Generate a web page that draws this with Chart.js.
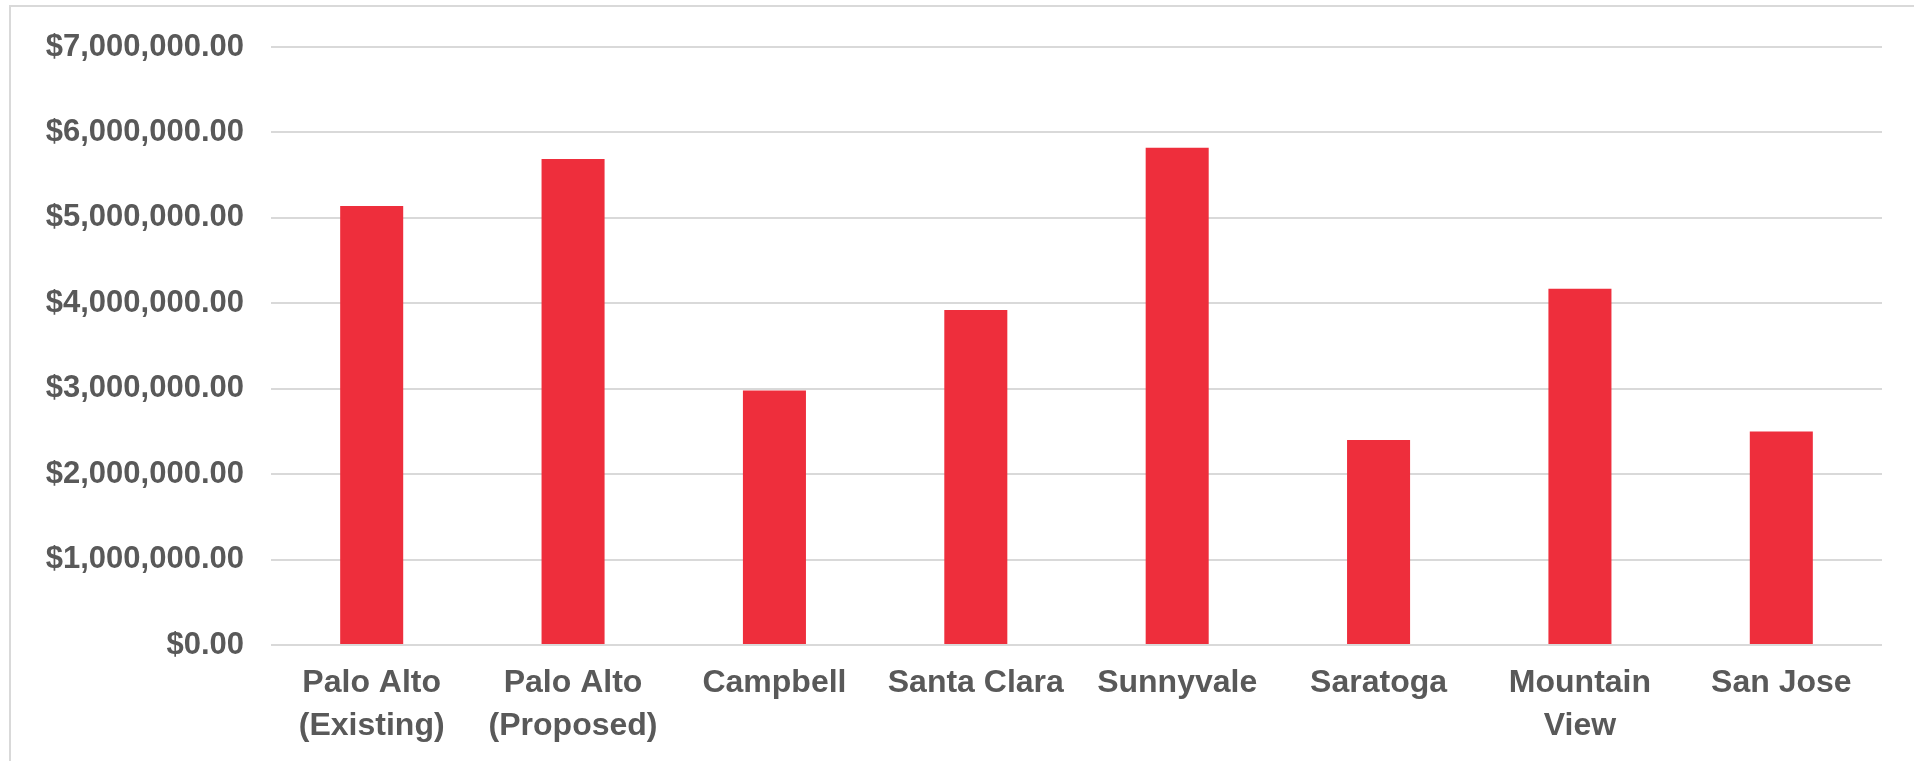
<!DOCTYPE html>
<html>
<head>
<meta charset="utf-8">
<script src="https://cdn.jsdelivr.net/npm/chart.js@4.4.0/dist/chart.umd.min.js"></script>
<style>
  html, body { margin: 0; padding: 0; background: #fff; overflow: hidden; }
  #frame {
    position: absolute; left: 9px; top: 5px; width: 1920px; height: 780px;
    border: 2px solid #d9d9d9; box-sizing: border-box;
  }
  #wrap { position: absolute; left: 0; top: 0; width: 1914px; height: 761px; }
</style>
</head>
<body>
<div id="frame"></div>
<div id="wrap"><canvas id="costChart"></canvas></div>
<script>
// Chart data
const cities = [
  ['Palo Alto', '(Existing)'],
  ['Palo Alto', '(Proposed)'],
  'Campbell',
  'Santa Clara',
  'Sunnyvale',
  'Saratoga',
  ['Mountain', 'View'],
  'San Jose'
];
const costs = [5140000, 5690000, 2980000, 3920000, 5820000, 2400000, 4170000, 2500000];
const yMax = 7000000;
const yStep = 1000000;

const textColor = '#595959';
const barColor = '#ee2e3c';
const gridColor = '#d9d9d9';

function formatMoney(v) {
  return '$' + v.toLocaleString('en-US', { minimumFractionDigits: 2, maximumFractionDigits: 2 });
}

const ctx = document.getElementById('costChart').getContext('2d');
const costChart = new Chart(ctx, {
  type: 'bar',
  data: {
    labels: cities,
    datasets: [{
      label: 'Cost',
      data: costs,
      backgroundColor: barColor,
      borderWidth: 0,
      barPercentage: 0.313,
      categoryPercentage: 1.0
    }]
  },
  options: {
    responsive: true,
    maintainAspectRatio: false,
    animation: false,
    layout: {
      padding: { left: 0, right: 32, top: 47, bottom: 0 }
    },
    plugins: {
      legend: { display: false },
      tooltip: { enabled: false }
    },
    scales: {
      x: {
        grid: { display: false, drawTicks: false },
        border: { display: false },
        ticks: {
          color: textColor,
          padding: 17,
          maxRotation: 0,
          autoSkip: false,
          font: { family: 'Liberation Sans', size: 32, weight: 'bold', lineHeight: 1.33 }
        },
        afterFit: (scale) => { scale.height = 116; }
      },
      y: {
        min: 0,
        max: yMax,
        grid: {
          color: gridColor,
          lineWidth: 2,
          drawTicks: false
        },
        border: { display: false },
        ticks: {
          stepSize: yStep,
          color: textColor,
          padding: 27,
          font: { family: 'Liberation Sans', size: 31, weight: 'bold' },
          callback: (value) => formatMoney(value)
        },
        afterFit: (scale) => { scale.width = 271; }
      }
    }
  }
});
</script>
</body>
</html>
